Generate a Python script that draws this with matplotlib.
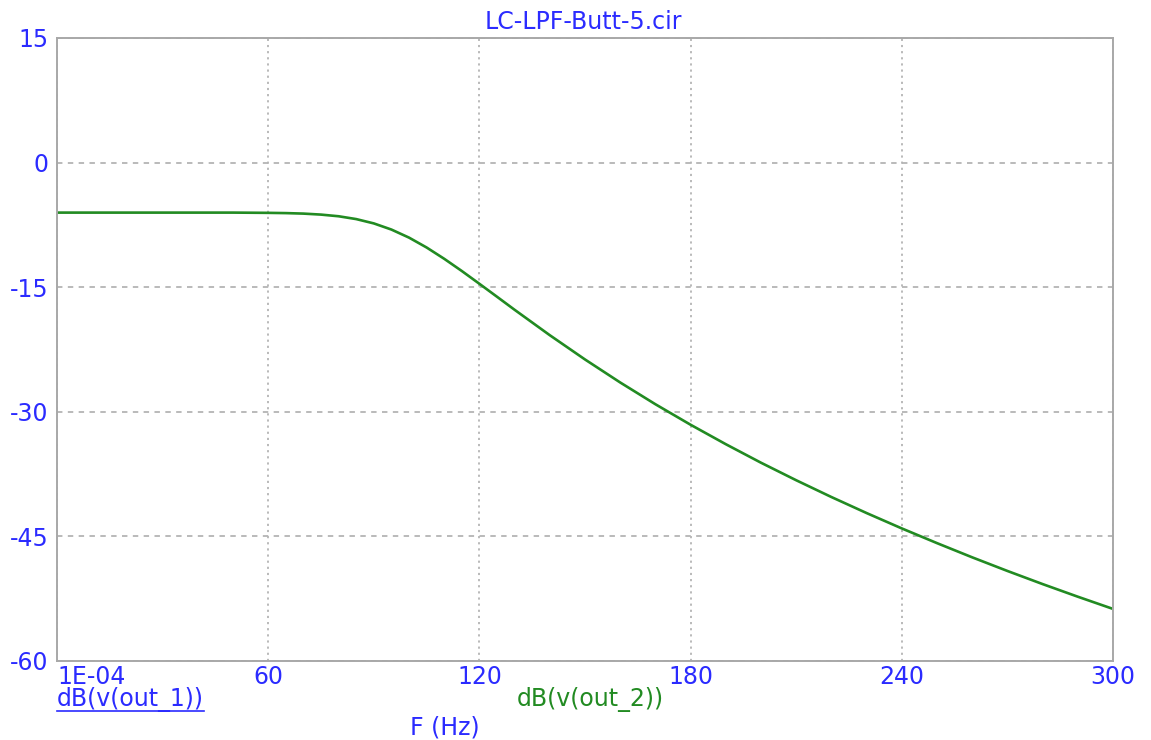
import matplotlib

matplotlib.use("Agg")
import matplotlib.pyplot as plt
from matplotlib.lines import Line2D

# frequency (Hz) and response (dB)
freq = [0, 10, 20, 30, 40, 50, 60, 65, 70, 75, 80, 85, 90, 95, 100, 105, 110,
        115, 120, 125, 130, 140, 150, 160, 170, 180, 190, 200, 210, 220, 230,
        240, 250, 260, 270, 280, 290, 300]
db_out = [-6.02, -6.02, -6.02, -6.02, -6.02, -6.02, -6.05, -6.08, -6.14, -6.26,
          -6.46, -6.80, -7.32, -8.06, -9.03, -10.22, -11.58, -13.05, -14.59,
          -16.15, -17.72, -20.78, -23.70, -26.47, -29.09, -31.56, -33.90,
          -36.13, -38.24, -40.26, -42.19, -44.04, -45.81, -47.52, -49.16,
          -50.74, -52.26, -53.73]

x_ticks = [0, 60, 120, 180, 240, 300]
x_labels = ["1E-04", "60", "120", "180", "240", "300"]
y_ticks = [-60, -45, -30, -15, 0, 15]

BLUE = "#2b2bff"
GREEN = "#228b22"
GRID = "#b4b4b4"

plt.rcParams["font.family"] = "DejaVu Sans"
plt.rcParams["axes.unicode_minus"] = False

fig = plt.figure(figsize=(11.51, 7.40), dpi=100)
ax = fig.add_axes([57 / 1151, 79 / 740, 1056 / 1151, 623 / 740])

ax.plot(freq, db_out, color=GREEN, linewidth=1.9, solid_joinstyle="round")

ax.set_xlim(0, 300)
ax.set_ylim(-60, 15)
ax.set_xticks(x_ticks, x_labels)
ax.set_yticks(y_ticks)
ax.tick_params(length=0, labelsize=17, labelcolor=BLUE)
ax.tick_params(axis="x", pad=3)
ax.tick_params(axis="y", pad=6)
ax.get_xticklabels()[0].set_horizontalalignment("left")

ax.xaxis.grid(True, color=GRID, linestyle=(0, (1.2, 2.2)), linewidth=1.3)
ax.yaxis.grid(True, color=GRID, linestyle=(0, (3, 3)), linewidth=1.3)
for side in ax.spines.values():
    side.set_color("#a8a8a8")
    side.set_linewidth(1.4)

fig.text(0.507, 0.970, "LC-LPF-Butt-5.cir", color=BLUE, fontsize=17,
         ha="center", va="center")
lbl1 = fig.text(57 / 1151, 1 - 700 / 740, "dB(v(out_1))", color=BLUE,
                fontsize=17, ha="left", va="center")
fig.text(517 / 1151, 1 - 700 / 740, "dB(v(out_2))", color=GREEN, fontsize=17,
         ha="left", va="center")
fig.text(410 / 1151, 1 - 727 / 740, "F (Hz)", color=BLUE, fontsize=17,
         ha="left", va="center")

# underline the first trace name
renderer = fig.canvas.get_renderer()
bb = lbl1.get_window_extent(renderer).transformed(fig.transFigure.inverted())
fig.add_artist(Line2D([bb.x0, bb.x1], [1 - 711 / 740] * 2,
                      color=BLUE, linewidth=1.2))

fig.savefig("out.png")
